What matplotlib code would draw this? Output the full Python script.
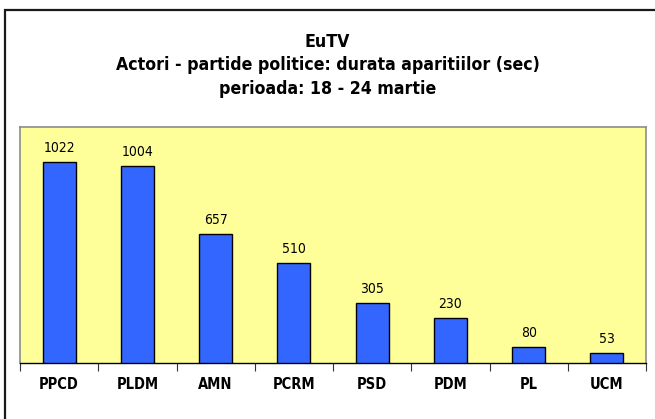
import matplotlib.pyplot as plt
from matplotlib.patches import Rectangle

# date grafic
partide = ['PPCD', 'PLDM', 'AMN', 'PCRM', 'PSD', 'PDM', 'PL', 'UCM']
durata = [1022, 1004, 657, 510, 305, 230, 80, 53]

titlu = 'EuTV\nActori - partide politice: durata aparitiilor (sec)\nperioada: 18 - 24 martie'

W, H = 655, 419
fig = plt.figure(figsize=(W / 100, H / 100), dpi=100)
fig.patch.set_facecolor('white')

# rama exterioara (taiata in dreapta si jos)
fig.patches.append(Rectangle((5 / W, -0.05), 1.1, 1 - 10.5 / H + 0.05,
                             transform=fig.transFigure, fill=False,
                             edgecolor='#1a1a1a', linewidth=1.6))

ax = fig.add_axes([20 / W, 1 - 363 / H, (646 - 20) / W, (363 - 127) / H])
ax.set_facecolor('#FFFF99')

x = range(len(partide))
ax.bar(x, durata, width=0.42, color='#3366FF', edgecolor='black', linewidth=1.0, zorder=3)

for i, v in enumerate(durata):
    ax.annotate(str(v), (i, v), xytext=(0, 5), textcoords='offset points',
                ha='center', va='bottom', fontsize=10, family='DejaVu Sans',
                fontstretch='condensed')

ax.set_xlim(-0.5, len(partide) - 0.5)
ax.set_ylim(0, 1200)
ax.set_yticks([])
ax.set_xticks([i + 0.5 for i in range(-1, len(partide))], minor=False)
ax.set_xticklabels([])
ax.tick_params(axis='x', direction='out', length=6, width=0.8, color='#333333')
ax.set_xticks(list(x), minor=True)
ax.set_xticklabels(partide, minor=True, fontsize=10.5, fontweight='bold',
                   family='DejaVu Sans', fontstretch='condensed')
ax.tick_params(axis='x', which='minor', length=0, pad=10)

for s in ['top', 'left', 'right']:
    ax.spines[s].set_color('#8c8c8c')
    ax.spines[s].set_linewidth(1.2)
ax.spines['bottom'].set_color('black')
ax.spines['bottom'].set_linewidth(1.0)

fig.text(0.5, 1 - 65.5 / H, titlu, ha='center', va='center', fontsize=12.7,
         fontweight='bold', family='DejaVu Sans', fontstretch='condensed',
         linespacing=1.4)

fig.savefig('out.png', dpi=100)
